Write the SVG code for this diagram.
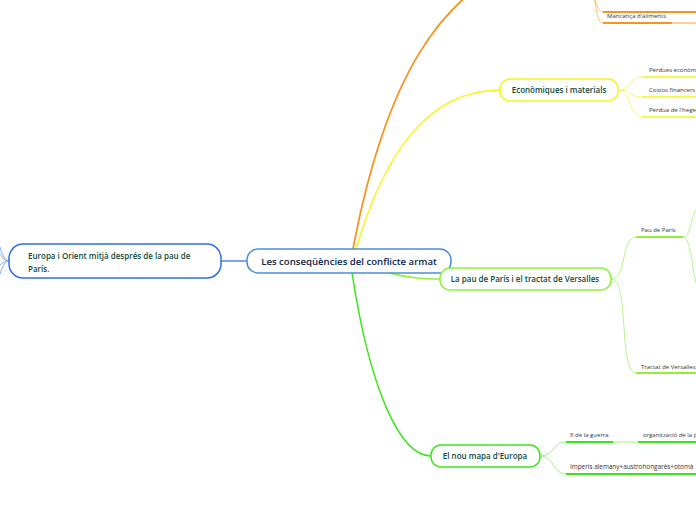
<svg xmlns="http://www.w3.org/2000/svg" width="696" height="520" viewBox="0 0 696 520">
<style>
text{font-family:"Open Sans","Noto Sans","DejaVu Sans",sans-serif}
.nl{font-size:8px;font-weight:600;fill:#0e4a3c}
.ct{font-size:9.6px;font-weight:600;fill:#0b2545}
.sl{font-size:6px;fill:#333}
.box{fill:#fff;stroke-width:1.5}
.c{fill:none}
</style>
<g id="connectors">
<path class="c" d="M353,249 C385,80 440,-10 530,-40" stroke="#f7931e" stroke-width="1.8"/>
<path class="c" d="M588,-12 C596,-12 594,12 603,12 H696" stroke="#f9c07a" stroke-width="1"/>
<path class="c" d="M588,-12 C597,-12 594,23 603,23" stroke="#f9c07a" stroke-width="1"/>
<path class="c" d="M603,12 H696" stroke="#f7931e" stroke-width="2"/>
<path class="c" d="M603,23 H672" stroke="#f7931e" stroke-width="2"/>
<path class="c" d="M672,23 H696" stroke="#f9c07a" stroke-width="1.5"/>
<path class="c" d="M356,249 C385,150 430,90 500,90" stroke="#f5f51a" stroke-width="1.5"/>
<path class="c" d="M618,90 C632,90 628,77 642,77 M618,90 C632,90 628,97 642,97 M618,90 C632,90 628,117 642,117" stroke="#f7f77a" stroke-width="1"/>
<path class="c" d="M642,77 H696 M642,97 H696 M642,117 H696" stroke="#f5f51a" stroke-width="1.5"/>
<path class="c" d="M385,272 C410,278 420,279 440,279" stroke="#8ff03a" stroke-width="1.5"/>
<path class="c" d="M611,279 C628,279 620,237 636,237 M611,279 C630,279 618,373 636,373" stroke="#b8f58a" stroke-width="1"/>
<path class="c" d="M636,237 H683 M636,373 H696" stroke="#8ff03a" stroke-width="2"/>
<path class="c" d="M683,237 C692,237 690,212 700,205 M683,237 C692,237 692,280 700,295" stroke="#b8f58a" stroke-width="1"/>
<path class="c" d="M352,273 C370,390 400,456 431,456" stroke="#3ae61a" stroke-width="1.5"/>
<path class="c" d="M540,456 C555,456 552,442 566,442 M540,456 C555,456 552,474 566,474 M613,442 H638" stroke="#9ef08a" stroke-width="1"/>
<path class="c" d="M566,442 H613 M638,442 H696 M566,474 H696" stroke="#3ae61a" stroke-width="2"/>
<path class="c" d="M221,261 H247" stroke="#2f6ee8" stroke-width="1.3"/>
<path class="c" d="M9,261 C0,261 -2,230 -12,215 M9,261 C0,261 -2,245 -12,240 M9,261 C0,261 -2,270 -12,275 M9,261 C0,261 -2,290 -12,305" stroke="#8aaef5" stroke-width="1"/>
</g>
<g id="central">
<rect class="box" x="247" y="249" width="204" height="24" rx="11" stroke="#4a8fd6"/>
<text class="ct" x="349" y="265" text-anchor="middle">Les conseqüències del conflicte armat</text>
</g>
<g id="europa-orient">
<rect class="box" x="9" y="244" width="212" height="34" rx="14" stroke="#2f6ee8"/>
<text class="nl" x="28" y="259">Europa i Orient mitjà després de la pau de</text>
<text class="nl" x="28" y="272">París.</text>
</g>
<g id="economiques">
<rect class="box" x="500" y="79" width="118" height="22" rx="10" stroke="#f5f51a"/>
<text class="nl" x="559" y="93" text-anchor="middle">Econòmiques i materials</text>
</g>
<g id="eco-1"><text class="sl" x="649" y="72">Pèrdues econòm</text></g>
<g id="eco-2"><text class="sl" x="649" y="92">Costos financers</text></g>
<g id="eco-3"><text class="sl" x="649" y="112">Pèrdua de l'hege</text></g>
<g id="mancanca"><text class="sl" x="607" y="18">Mancança d'aliments</text></g>
<g id="pau-paris-versalles">
<rect class="box" x="440" y="268" width="171" height="22" rx="10" stroke="#8ff03a"/>
<text class="nl" x="525" y="282" text-anchor="middle">La pau de París i el tractat de Versalles</text>
</g>
<g id="pau-paris"><text class="sl" x="641" y="232">Pau de París</text></g>
<g id="tractat"><text class="sl" x="641" y="369">Tractat de Versalles</text></g>
<g id="nou-mapa">
<rect class="box" x="431" y="445" width="109" height="22" rx="10" stroke="#3ae61a"/>
<text class="nl" x="485" y="459" text-anchor="middle">El nou mapa d'Europa</text>
</g>
<g id="fi-guerra"><text class="sl" x="570" y="437">fi de la guerra</text></g>
<g id="organitzacio"><text class="sl" x="643" y="437">organització de la p</text></g>
<g id="imperis"><text class="sl" x="570" y="469" style="font-size:6.4px">Imperis alemany+austrohongarès+otomà</text></g>
</svg>
